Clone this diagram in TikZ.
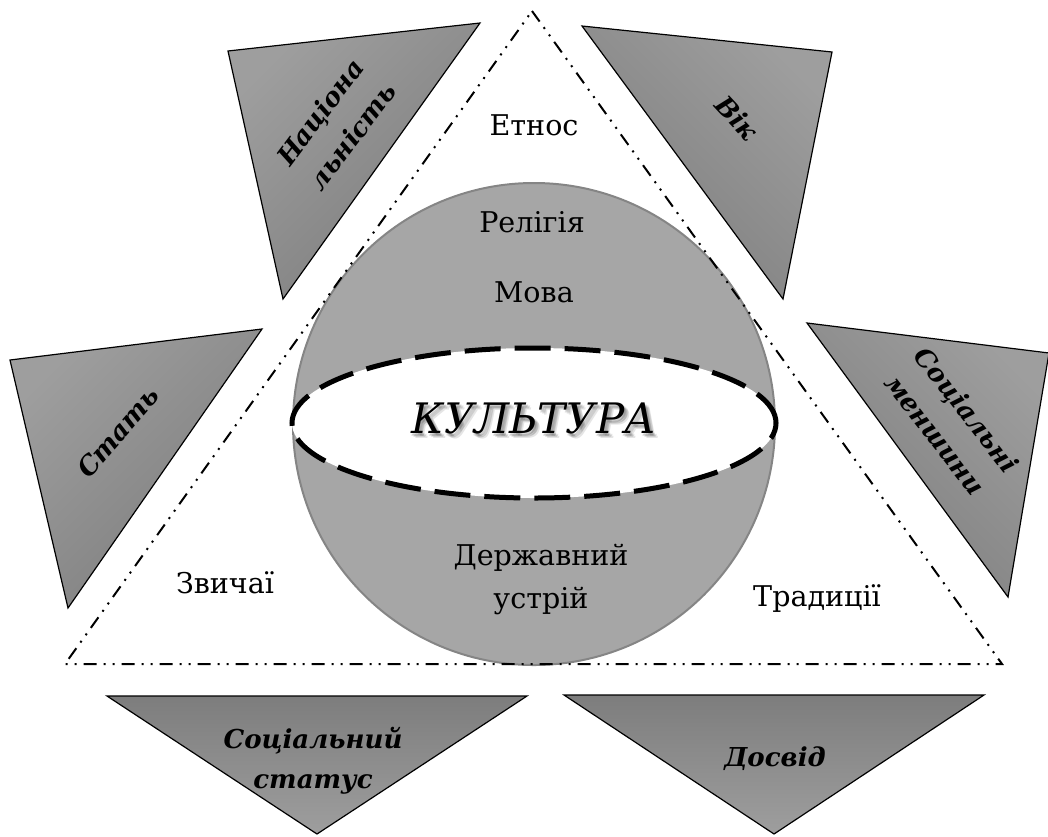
\documentclass[tikz,border=0pt]{standalone}
\usepackage{fontspec}
\setmainfont{DejaVu Serif}[Scale=0.84]

\definecolor{shadelight}{gray}{0.62}
\definecolor{shadedark}{gray}{0.49}
\definecolor{spherefill}{gray}{0.65}
\definecolor{sphereline}{gray}{0.52}

\tikzset{
  factor/.style={draw=black, line width=1.2pt, top color=shadelight, bottom color=shadedark, shading angle=#1},
  factorlabel/.style={font=\fontsize{31}{40}\selectfont\bfseries\itshape, align=center},
  plain/.style={font=\fontsize{34}{43}\selectfont, align=center},
  bigword/.style={font=\fontsize{50}{60}\selectfont\itshape, anchor=base},
  frame/.style={line width=2pt, dash pattern=on 13pt off 7pt on 2pt off 7pt on 2pt off 7pt},
  ring/.style={fill=white, line width=5pt, dash pattern=on 36pt off 14pt}
}

\begin{document}
\begin{tikzpicture}[x=1pt,y=-1pt]
  \useasboundingbox (0,0) rectangle (1048,836);

  % the sphere with its belt
  \coordinate (core) at (534,424);
  \fill[spherefill] (core) circle[radius=241pt];
  \draw[sphereline, line width=2pt] (core) circle[radius=241pt];
  \draw[ring] (534,423) ellipse[x radius=242pt, y radius=75pt];

  % outer triangle
  \coordinate (apex) at (532,11);
  \coordinate (baseL) at (65,664);
  \coordinate (baseR) at (1002,664);
  \draw[frame] (apex) -- (baseR) -- (baseL) -- cycle;

  % the six factors
  \draw[factor=45]  (228,51) -- (480,23) -- (283,299) -- cycle;
  \draw[factor=-45] (582,26) -- (832,52) -- (783,299) -- cycle;
  \draw[factor=45]  (10,360) -- (262,329) -- (68,608) -- cycle;
  \draw[factor=-45] (807,323) -- (1049,353) -- (1008,597) -- cycle;
  \draw[factor=180] (107,696) -- (527,696) -- (317,834) -- cycle;
  \draw[factor=180] (564,695) -- (984,695) -- (774,834) -- cycle;

  \node[factorlabel, rotate=53] (nation) at (336,124) {Націона\\льність};
  \node[factorlabel, rotate=-47] (age) at (737,118) {Вік};
  \node[factorlabel, rotate=49] (gender) at (118,432) {Стать};
  \node[factorlabel, rotate=-52] (minor) at (951,422) {Соціальні\\меншини};
  \node[factorlabel] (status) at (313,761) {Соціальний\\статус};
  \node[factorlabel, anchor=base] (exper) at (775,766) {Досвід};

  % inner texts
  \node[plain, anchor=base] (ethnos) at (534,135) {Етнос};
  \node[plain, anchor=base] (relig) at (532,232) {Релігія};
  \node[plain, anchor=base] (lang) at (534,302) {Мова};
  \node[plain] (state) at (541,580) {Державний\\устрій};
  \node[plain, anchor=base] (customs) at (225,593) {Звичаї};
  \node[plain, anchor=base] (tradit) at (817,606) {Традиції};

  % soft shadow, then the word
  \foreach \dx/\dy [count=\i] in {2/2, 3/4, 4/3, 5/5, 1/3} {
    \node[bigword, opacity=0.1] (shade\i) at (534+\dx,433+\dy) {КУЛЬТУРА};
  }
  \node[bigword] (culture) at (534,433) {КУЛЬТУРА};
\end{tikzpicture}
\end{document}
